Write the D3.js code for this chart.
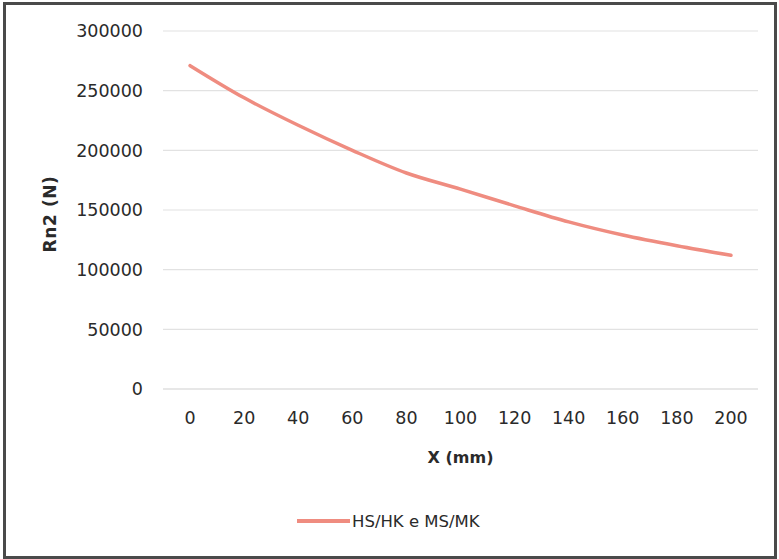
<!DOCTYPE html>
<html><head><meta charset="utf-8">
<script src="https://cdn.jsdelivr.net/npm/d3@7"></script>
<style>
html,body{margin:0;padding:0;background:#fff;}
svg{display:block;}
text{font-family:"DejaVu Sans", "Liberation Sans", sans-serif;}
</style></head>
<body>
<svg id="chart" width="779" height="559"></svg>
<script>
const categories = [0, 20, 40, 60, 80, 100, 120, 140, 160, 180, 200];
const seriesName = "HS/HK e MS/MK";
const seriesValues = [271000, 244000, 221000, 200000, 181000, 167500, 153500, 140000, 129000, 120000, 112000];
const yTicks = [0, 50000, 100000, 150000, 200000, 250000, 300000];
const xTitle = "X (mm)";
const yTitle = "Rn2 (N)";

const svg = d3.select("#chart");
const W = 779, H = 559;
const plot = {left: 163, right: 758, top: 31, bottom: 389};
const lineColor = "#EF8C80";
const textColor = "#2a2a2a";

svg.append("rect").attr("x", 4.5).attr("y", 3.5).attr("width", W - 8).attr("height", H - 5)
  .attr("fill", "#fff").attr("stroke", "#4a4a4a").attr("stroke-width", 3);

const x = d3.scaleBand().domain(categories).range([plot.left, plot.right]);
const y = d3.scaleLinear().domain([0, 300000]).range([plot.bottom, plot.top]);

// gridlines
svg.append("g").selectAll("line").data(yTicks).join("line")
  .attr("x1", plot.left).attr("x2", plot.right)
  .attr("y1", d => y(d)).attr("y2", d => y(d))
  .attr("stroke", d => d === 0 ? "#d0d0d0" : "#e2e2e2").attr("stroke-width", 1.2);

// y axis labels
const yAxis = d3.axisLeft(y).tickValues(yTicks).tickSize(0).tickPadding(0).tickFormat(d3.format("d"));
const gy = svg.append("g").attr("transform", `translate(${plot.left - 20},0)`).call(yAxis);
gy.select(".domain").remove();
gy.selectAll("text").attr("fill", textColor).attr("dy", "0.33em")
  .style("font-size", "17.5px").style("font-family", "'DejaVu Sans', sans-serif");

// x axis labels
const xAxis = d3.axisBottom(x).tickSize(0).tickPadding(0);
const gx = svg.append("g").attr("transform", `translate(0,${plot.bottom + 23})`).call(xAxis);
gx.select(".domain").remove();
gx.selectAll("text").attr("fill", textColor)
  .style("font-size", "17.5px").style("font-family", "'DejaVu Sans', sans-serif");

// titles
svg.append("text").attr("x", (plot.left + plot.right) / 2).attr("y", 463)
  .attr("text-anchor", "middle").attr("fill", textColor)
  .style("font-size", "16px").style("font-weight", "bold").text(xTitle);
svg.append("text").attr("transform", `translate(56,214) rotate(-90)`)
  .attr("text-anchor", "middle").attr("fill", textColor)
  .style("font-size", "17px").style("font-weight", "bold").style("letter-spacing", "0.6px").text(yTitle);

// line
const line = d3.line().x((d, i) => x(categories[i]) + x.bandwidth() / 2).y(d => y(d)).curve(d3.curveMonotoneX);
svg.append("path").datum(seriesValues).attr("d", line)
  .attr("fill", "none").attr("stroke", lineColor).attr("stroke-width", 3.5).attr("stroke-linecap", "round");

// legend
const lg = svg.append("g").attr("transform", "translate(297,521)");
lg.append("line").attr("x1", 0).attr("x2", 53).attr("y1", 0).attr("y2", 0)
  .attr("stroke", lineColor).attr("stroke-width", 4);
lg.append("text").attr("x", 55).attr("y", 0).attr("dy", "0.36em").attr("fill", textColor)
  .style("font-size", "16.5px").text(seriesName);
</script>
</body></html>
